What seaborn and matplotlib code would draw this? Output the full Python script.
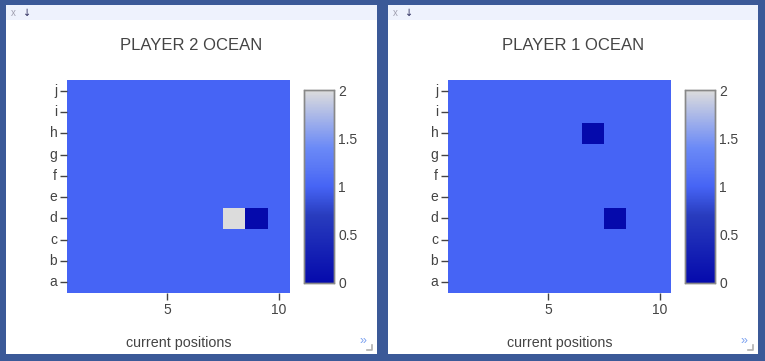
import numpy as np
import pandas as pd
import seaborn as sns
import matplotlib
matplotlib.use("Agg")
import matplotlib.pyplot as plt
from matplotlib.colors import LinearSegmentedColormap
from matplotlib.patches import Rectangle
from matplotlib.lines import Line2D

# ---- data ----
rows = ["a", "b", "c", "d", "e", "f", "g", "h", "i", "j"]
cols = [1, 2, 3, 4, 5, 6, 7, 8, 9, 10]
titles = ["PLAYER 2 OCEAN", "PLAYER 1 OCEAN"]
# special cells: (row, col, value); everything else = 1
p2_cells = [("d", 8, 2), ("d", 9, 0)]
p1_cells = [("h", 7, 0), ("d", 8, 0)]
xtick_vals = [5, 10]
cbar_ticks = [0, 0.5, 1, 1.5, 2]
xlabel = "current positions"

def make_grid(cells):
    df = pd.DataFrame(1.0, index=rows, columns=cols)
    for r, c, v in cells:
        df.loc[r, c] = v
    return df.iloc[::-1]  # j at top

grids = [make_grid(p2_cells), make_grid(p1_cells)]

# Plotly "Blues" colorscale
stops = [(0.0, (5, 10, 172)), (0.35, (40, 60, 190)), (0.5, (70, 100, 245)),
         (0.6, (90, 120, 245)), (0.7, (106, 137, 247)), (1.0, (220, 220, 220))]
cmap = LinearSegmentedColormap.from_list(
    "plotly_blues", [(p, tuple(c / 255 for c in rgb)) for p, rgb in stops])

W, H = 765, 361
BG = "#3b5998"
TXT = "#444444"
plt.rcParams["font.family"] = ["Liberation Sans", "DejaVu Sans"]

fig = plt.figure(figsize=(W / 100, H / 100), dpi=100, facecolor=BG)

def fx(x): return x / W
def fy(y): return 1 - y / H

panels = [(6, 377), (388, 758)]
offsets = [0, 381]
for (x0, x1), off, grid, title in zip(panels, offsets, grids, titles):
    fig.add_artist(Rectangle((fx(x0), fy(354)), fx(x1 - x0), (354 - 5) / H,
                             transform=fig.transFigure, facecolor="white",
                             edgecolor="none", zorder=0))
    fig.add_artist(Rectangle((fx(x0), fy(20)), fx(x1 - x0), 15 / H,
                             transform=fig.transFigure, facecolor="#eef2fd",
                             edgecolor="none", zorder=0))
    fig.text(fx(x0 + 7), fy(12.5), "x", color="#a0a0b0", fontsize=7,
             ha="center", va="center")
    fig.text(fx(x0 + 21), fy(12.5), "↓", color="#303060", fontsize=7,
             ha="center", va="center", family=["DejaVu Sans"])
    fig.text(fx(x1 - 14), fy(341), "»", color="#7aa0f0", fontsize=9,
             ha="center", va="center")
    # resize corner
    fig.add_artist(Line2D([fx(x1 - 10), fx(x1 - 5), fx(x1 - 5)],
                          [fy(350), fy(350), fy(345)], transform=fig.transFigure,
                          color="#b0b0b0", lw=1.2))
    fig.text(fx((x0 + x1) / 2), fy(45), title, color=TXT, fontsize=12,
             ha="center", va="center")

    ax = fig.add_axes([fx(67 + off), fy(293), (290 - 67) / W, (293 - 80) / H])
    cax = fig.add_axes([fx(304 + off), fy(283), 30 / W, (283 - 90) / H])
    sns.heatmap(grid, ax=ax, cbar_ax=cax, cmap=cmap, vmin=0, vmax=2,
                cbar_kws={"ticks": cbar_ticks})
    ax.set_xticks([v - 0.5 for v in xtick_vals])
    ax.set_xticklabels([str(v) for v in xtick_vals], rotation=0)
    ax.set_yticks(np.arange(len(rows)) + 0.5)
    ax.set_yticklabels(list(grid.index), rotation=0)
    ax.tick_params(axis="both", colors=TXT, labelsize=10, length=5, width=1,
                   pad=2)
    ax.set_xlabel(xlabel, color=TXT, fontsize=10.3, labelpad=14)
    ax.set_ylabel("")
    cax.tick_params(length=0, labelsize=10, labelcolor=TXT, pad=3)
    cax.set_yticklabels(["0", "0.5", "1", "1.5", "2"])
    for s in cax.spines.values():
        s.set_visible(True)
        s.set_edgecolor("#888888")
        s.set_linewidth(1)

fig.savefig("out.png", dpi=100, facecolor=BG)
